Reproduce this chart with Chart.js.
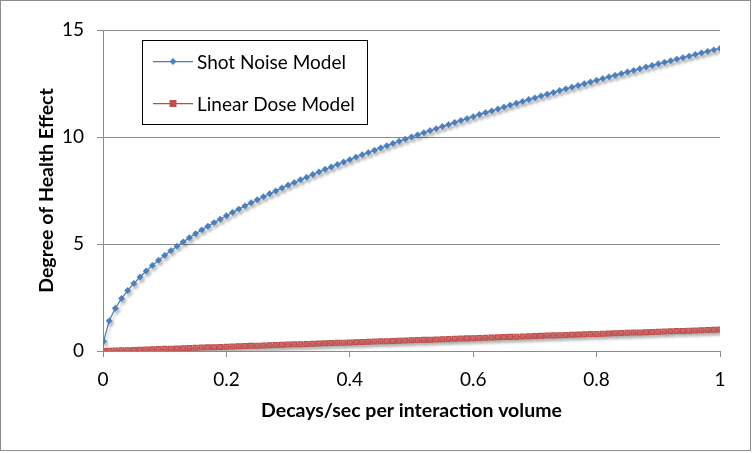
<!DOCTYPE html>
<html>
<head>
<meta charset="utf-8">
<script src="https://cdn.jsdelivr.net/npm/chart.js@4.4.0/dist/chart.umd.min.js"></script>
<style>
html,body{margin:0;padding:0;background:#fff;}
#wrap{position:relative;width:752px;height:453px;}
canvas{display:block;}
</style>
</head>
<body>
<div id="wrap"><canvas id="c" width="752" height="453"></canvas></div>
<script>
// ---- data ----
const xValues = [0.001,0.01,0.02,0.03,0.04,0.05,0.06,0.07,0.08,0.09,0.10,
0.11,0.12,0.13,0.14,0.15,0.16,0.17,0.18,0.19,0.20,
0.21,0.22,0.23,0.24,0.25,0.26,0.27,0.28,0.29,0.30,
0.31,0.32,0.33,0.34,0.35,0.36,0.37,0.38,0.39,0.40,
0.41,0.42,0.43,0.44,0.45,0.46,0.47,0.48,0.49,0.50,
0.51,0.52,0.53,0.54,0.55,0.56,0.57,0.58,0.59,0.60,
0.61,0.62,0.63,0.64,0.65,0.66,0.67,0.68,0.69,0.70,
0.71,0.72,0.73,0.74,0.75,0.76,0.77,0.78,0.79,0.80,
0.81,0.82,0.83,0.84,0.85,0.86,0.87,0.88,0.89,0.90,
0.91,0.92,0.93,0.94,0.95,0.96,0.97,0.98,0.99,1.00];

const shotNoise = [0.45,1.41,2.00,2.45,2.83,3.16,3.46,3.74,4.00,4.24,4.47,
4.69,4.90,5.10,5.29,5.48,5.66,5.83,6.00,6.16,6.32,
6.48,6.63,6.78,6.93,7.07,7.21,7.35,7.48,7.62,7.75,
7.87,8.00,8.12,8.25,8.37,8.49,8.60,8.72,8.83,8.94,
9.06,9.17,9.27,9.38,9.49,9.59,9.70,9.80,9.90,10.00,
10.10,10.20,10.30,10.39,10.49,10.58,10.68,10.77,10.86,10.95,
11.05,11.14,11.22,11.31,11.40,11.49,11.58,11.66,11.75,11.83,
11.92,12.00,12.08,12.17,12.25,12.33,12.41,12.49,12.57,12.65,
12.73,12.81,12.88,12.96,13.04,13.11,13.19,13.27,13.34,13.42,
13.49,13.56,13.64,13.71,13.78,13.86,13.93,14.00,14.07,14.14];

const linearDose = [0.00,0.01,0.02,0.03,0.04,0.05,0.06,0.07,0.08,0.09,0.10,
0.11,0.12,0.13,0.14,0.15,0.16,0.17,0.18,0.19,0.20,
0.21,0.22,0.23,0.24,0.25,0.26,0.27,0.28,0.29,0.30,
0.31,0.32,0.33,0.34,0.35,0.36,0.37,0.38,0.39,0.40,
0.41,0.42,0.43,0.44,0.45,0.46,0.47,0.48,0.49,0.50,
0.51,0.52,0.53,0.54,0.55,0.56,0.57,0.58,0.59,0.60,
0.61,0.62,0.63,0.64,0.65,0.66,0.67,0.68,0.69,0.70,
0.71,0.72,0.73,0.74,0.75,0.76,0.77,0.78,0.79,0.80,
0.81,0.82,0.83,0.84,0.85,0.86,0.87,0.88,0.89,0.90,
0.91,0.92,0.93,0.94,0.95,0.96,0.97,0.98,0.99,1.00];

const xTickLabels = ['0','0.2','0.4','0.6','0.8','1'];
const seriesNames = ['Shot Noise Model','Linear Dose Model'];
const xTitle = 'Decays/sec per interaction volume';
const yTitle = 'Degree of Health Effect';

const FONT = "Lato, 'Liberation Sans', sans-serif";
const BLUE_LINE = '#4a7ebb', BLUE_PT = '#4f81bd';
const RED_LINE = '#be4b48', RED_PT = '#c0504d';
const GRID = '#8a8a8a';

function pts(ys){ return xValues.map((x,i)=>({x:x,y:ys[i]})); }

const shadowPlugin = {
  id:'shadow',
  beforeDatasetDraw(chart){ const c=chart.ctx; c.save(); c.shadowColor='rgba(0,0,0,0.22)'; c.shadowBlur=3; c.shadowOffsetX=2; c.shadowOffsetY=3; },
  afterDatasetDraw(chart){ chart.ctx.restore(); }
};

const frameLegendPlugin = {
  id:'frameLegend',
  afterDraw(chart){
    const c = chart.ctx;
    c.save();
    c.strokeStyle = '#8c8c8c'; c.lineWidth = 1;
    c.strokeRect(0.5,0.5,750,450);
    c.strokeStyle = '#000';
    c.strokeRect(142.5,40.5,225,84);
    const items = [
      {y:61.5, line:BLUE_LINE, pt:BLUE_PT, style:'rectRot', ty:63},
      {y:103.5, line:RED_LINE, pt:RED_PT, style:'rect', ty:105}
    ];
    items.forEach((it,i)=>{
      c.strokeStyle = it.line; c.lineWidth = 1.25;
      c.beginPath(); c.moveTo(153,it.y); c.lineTo(193,it.y); c.stroke();
      c.fillStyle = it.pt;
      if(it.style==='rectRot'){
        c.beginPath(); c.moveTo(173,it.y-3.5); c.lineTo(176.5,it.y); c.lineTo(173,it.y+3.5); c.lineTo(169.5,it.y); c.closePath(); c.fill();
      } else {
        c.fillRect(169.5,it.y-3.5,7,7);
      }
      c.fillStyle = '#000';
      c.font = "19px " + FONT;
      c.textBaseline = 'middle'; c.textAlign = 'left';
      c.fillText(seriesNames[i], 197, it.ty);
    });
    c.restore();
  }
};

new Chart(document.getElementById('c'), {
  type:'scatter',
  data:{
    datasets:[
      {label:seriesNames[0], data:pts(shotNoise), showLine:true, borderColor:BLUE_LINE, borderWidth:1.25,
       pointStyle:'rectRot', pointRadius:3.2, pointBackgroundColor:BLUE_PT, pointBorderColor:BLUE_PT, pointBorderWidth:0.5, tension:0},
      {label:seriesNames[1], data:pts(linearDose), showLine:true, borderColor:RED_LINE, borderWidth:1.25,
       pointStyle:'rect', pointRadius:3.4, pointBackgroundColor:'#d46e6b', pointBorderColor:RED_PT, pointBorderWidth:1.2, tension:0}
    ]
  },
  options:{
    responsive:false, animation:false, devicePixelRatio:1,
    layout:{padding:{top:30,right:32,left:0,bottom:0}},
    plugins:{legend:{display:false}, tooltip:{enabled:false}},
    scales:{
      x:{type:'linear', min:0, max:1,
         afterFit(s){ s.height = 102; },
         ticks:{stepSize:0.2, color:'#000', font:{family:FONT,size:19}, padding:11, maxRotation:0,
                callback:(v,i)=>xTickLabels[i]},
         grid:{drawOnChartArea:false, drawTicks:true, tickLength:6, color:GRID},
         border:{display:true, color:GRID, width:1},
         title:{display:true, text:xTitle, color:'#000', font:{family:FONT,size:19.5,weight:'bold'}, padding:{top:0,bottom:31}}
      },
      y:{type:'linear', min:0, max:15,
         afterFit(s){ s.width = 103; },
         ticks:{stepSize:5, color:'#000', font:{family:FONT,size:19}, padding:13},
         grid:{drawOnChartArea:true, drawTicks:true, tickLength:6, color:GRID},
         border:{display:true, color:GRID, width:1},
         title:{display:true, text:yTitle, color:'#000', font:{family:FONT,size:19.5,weight:'bold'}, padding:{top:35,bottom:0}}
      }
    }
  },
  plugins:[shadowPlugin, frameLegendPlugin]
});
</script>
</body>
</html>
